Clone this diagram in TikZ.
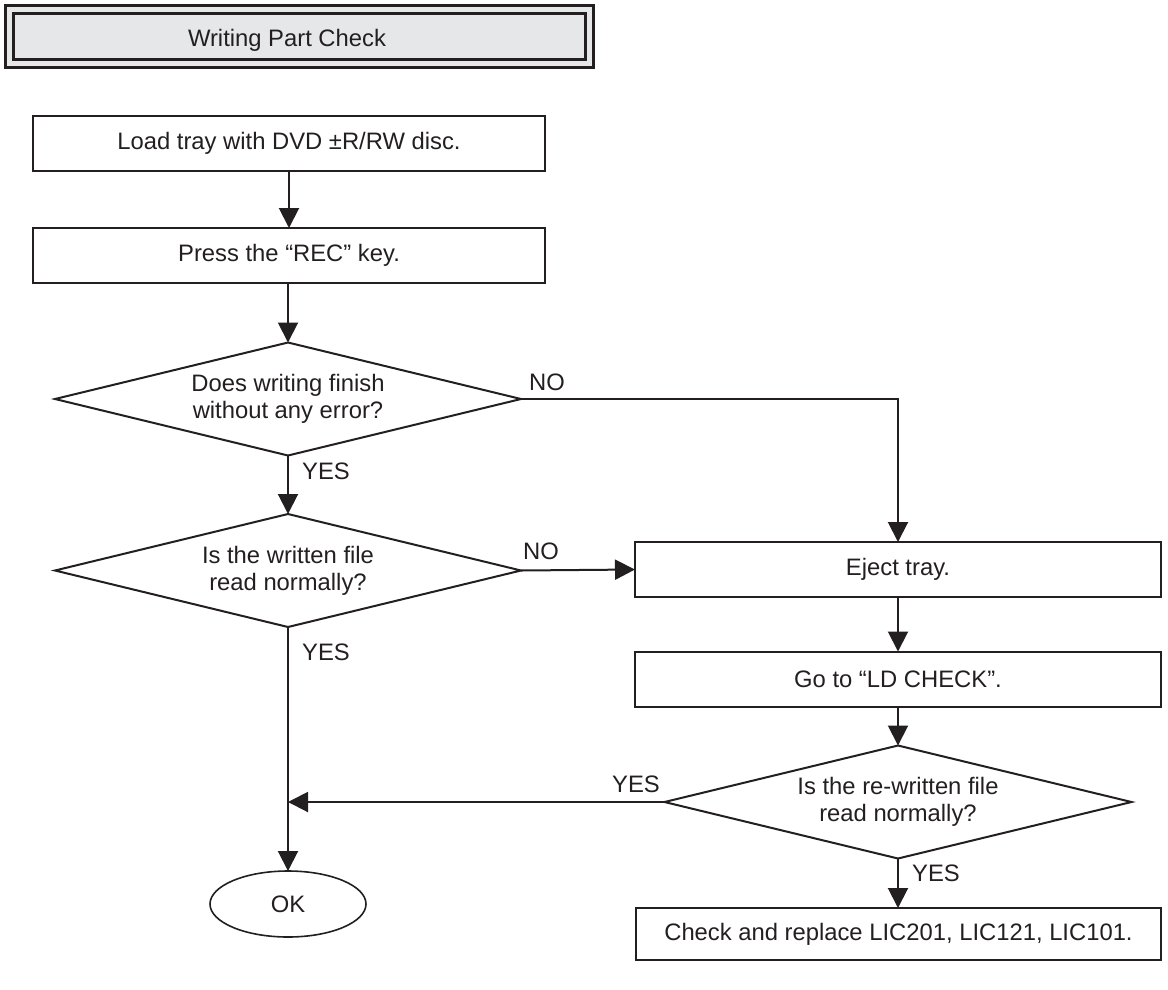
\documentclass[tikz,border=0pt]{standalone}
\usepackage{fontspec}
\setmainfont{Liberation Sans}
\usetikzlibrary{shapes.geometric,arrows.meta}
\definecolor{ink}{HTML}{231F20}
\definecolor{titlegray}{HTML}{E6E7E8}
\begin{document}
\begin{tikzpicture}[x=1pt,y=-1pt,
  every node/.style={outer sep=0pt, text=ink, font=\fontsize{23.8pt}{27pt}\selectfont},
  procbox/.style={draw=ink, line width=2pt, rectangle, minimum width=#1, minimum height=55pt, inner sep=0pt},
  decision/.style={draw=ink, line width=2pt, diamond, aspect=4.12, minimum width=#1, minimum height=113pt, inner sep=0pt, align=center},
  endnode/.style={draw=ink, line width=1.6pt, ellipse, minimum width=156pt, minimum height=66pt, inner sep=0pt},
  titleframe/.style={draw=ink, line width=3pt, fill=titlegray, rectangle, minimum width=588pt, minimum height=62pt, inner sep=0pt},
  lbl/.style={inner sep=0pt},
  conn/.style={draw=ink, line width=2pt, -{Triangle[width=20pt,length=20pt]}},
  plain/.style={draw=ink, line width=2pt}
]
\useasboundingbox (0,0) rectangle (1168,989);
% title
\node[titleframe] (title) at (299,36) {};
\draw[draw=ink, line width=3pt] ([xshift=8pt,yshift=-8pt]title.north west) rectangle ([xshift=-8pt,yshift=8pt]title.south east);
\node[anchor=base, inner sep=0pt] (titletext) at (287,46) {Writing Part Check};
% left column
\node[procbox=512pt] (load) at (289,143.5) {Load tray with DVD ±R/RW disc.};
\node[procbox=512pt] (rec) at (289,255.5) {Press the “REC” key.};
\node[decision=466pt] (d1) at (288,399) {Does writing finish\\without any error?};
\node[decision=466pt] (d2) at (288,570.5) {Is the written file\\read normally?};
\node[endnode] (ok) at (288,904) {OK};
% right column
\node[procbox=526pt] (eject) at (898,569.5) {Eject tray.};
\node[procbox=526pt] (ld) at (898,679) {Go to “LD CHECK”.};
\node[decision=467pt] (d3) at (898,802) {Is the re-written file\\read normally?};
\node[procbox=525pt, minimum height=52pt] (fin) at (898.5,934) {Check and replace LIC201, LIC121, LIC101.};
% connectors
\draw[conn] (load.south -| rec.north) -- (rec.north);
\draw[conn] (rec.south -| d1.north) -- (d1.north);
\draw[conn] (d1.south) -- (d2.north);
\draw[conn] (d1.east) -| (eject.north);
\draw[conn] (d2.east) -- (eject.west);
\draw[conn] (d2.south) -- (ok.north);
\draw[conn] (eject.south) -- (ld.north);
\draw[conn] (ld.south) -- (d3.north);
\coordinate (join) at (d3.west -| ok.north);
\draw[conn] (d3.west) -- (join);
\draw[conn] (d3.south) -- (d3.south |- fin.north);
% labels
\node[lbl] (no1) at (547,382) {NO};
\node[lbl] (yes1) at (326,471) {YES};
\node[lbl] (no2) at (541,551) {NO};
\node[lbl] (yes2) at (326,652) {YES};
\node[lbl] (yes3) at (636,784) {YES};
\node[lbl] (yes4) at (936,873) {YES};
\end{tikzpicture}
\end{document}
